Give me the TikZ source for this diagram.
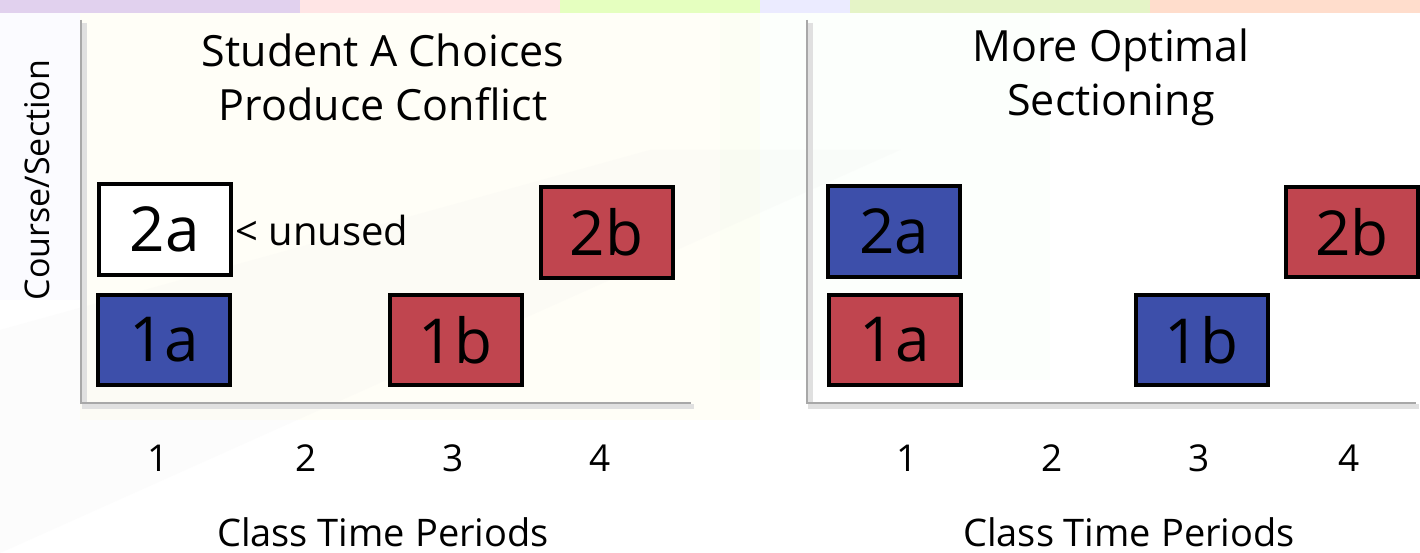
\documentclass[tikz,border=0pt]{standalone}
\usepackage{fontspec}
\setmainfont{Open Sans}
\definecolor{secblue}{HTML}{3D4FAA}
\definecolor{secred}{HTML}{C0454F}
\definecolor{axisgray}{HTML}{A8A8A8}
\begin{document}
\begin{tikzpicture}[x=1pt,y=-1pt,
  sec/.style={draw=black, line width=4pt, minimum width=132pt, minimum height=90pt,
    inner sep=0pt, font=\fontsize{62}{62}\selectfont},
  blu/.style={sec, fill=secblue},
  rd/.style={sec, fill=secred},
  wht/.style={sec, fill=white},
  ttl/.style={font=\fontsize{43}{54}\selectfont, align=center},
  num/.style={font=\fontsize{37}{37}\selectfont},
  lab/.style={font=\fontsize{38}{38}\selectfont},
  axis/.style={draw=axisgray, line width=2.5pt},
  shadow/.style={draw=black!12, line width=5pt}]
\useasboundingbox (0,0) rectangle (1420,553);
% background
\fill[white] (0,0) rectangle (1420,553);
\fill[blue!30!violet, opacity=0.18] (0,0) rectangle (300,13);
\fill[red!40, opacity=0.25] (300,0) rectangle (560,13);
\fill[green!40!yellow, opacity=0.25] (560,0) rectangle (760,13);
\fill[blue!30, opacity=0.25] (760,0) rectangle (850,13);
\fill[yellow!60!green, opacity=0.25] (850,0) rectangle (1150,13);
\fill[red!30!orange, opacity=0.2] (1150,0) rectangle (1420,13);
\fill[blue!20, opacity=0.08] (0,13) rectangle (80,300);
\fill[yellow!40, opacity=0.07] (80,13) rectangle (760,420);
\fill[green!20, opacity=0.05] (720,13) rectangle (1050,380);
\fill[gray!15, opacity=0.15] (0,330) -- (650,150) -- (900,150) -- (0,553) -- cycle;
% left panel axes
\coordinate (LT) at (81,20);
\coordinate (LO) at (81,403);
\coordinate (LR) at (691,403);
\draw[shadow] ([shift={(3,3)}]LT) -- ([shift={(3,3)}]LO) -- ([shift={(3,3)}]LR);
\draw[axis] (LT) -- (LO) -- (LR);
% right panel axes
\coordinate (RT) at (807,20);
\coordinate (RO) at (807,403);
\coordinate (RR) at (1416,403);
\draw[shadow] ([shift={(3,3)}]RT) -- ([shift={(3,3)}]RO) -- ([shift={(3,3)}]RR);
\draw[axis] (RT) -- (RO) -- (RR);
% titles
\node[ttl] (lt) at (383,77) {Student A Choices\\Produce Conflict};
\node[ttl] (rt) at (1111,77) {More Optimal\\Sectioning};
% left boxes
\node[wht] (L2a) at (164.5,229.5) {2a};
\node[rd]  (L2b) at (606.5,232.5) {2b};
\node[blu] (L1a) at (164,340) {1a};
\node[rd]  (L1b) at (455.5,340) {1b};
\node[lab, anchor=west, font=\fontsize{40}{40}\selectfont] (unused) at (232,230) {< unused};
% right boxes
\node[blu] (R2a) at (894,231.5) {2a};
\node[rd]  (R2b) at (1352,232) {2b};
\node[rd]  (R1a) at (894.5,340) {1a};
\node[blu] (R1b) at (1201.5,340) {1b};
% numbers
\node[num] (l1) at (158,458) {1};
\node[num] (l2) at (306,458) {2};
\node[num] (l3) at (453,458) {3};
\node[num] (l4) at (600,458) {4};
\node[num] (r1) at (907,458) {1};
\node[num] (r2) at (1052,458) {2};
\node[num] (r3) at (1199,458) {3};
\node[num] (r4) at (1349,458) {4};
% axis labels
\node[lab, anchor=base, inner sep=1pt] (lx) at (383,546) {Class Time Periods};
\node[lab, anchor=base, inner sep=1pt] (rx) at (1129,546) {Class Time Periods};
\node[lab, rotate=90, font=\fontsize{34}{34}\selectfont] (ly) at (37,180) {Course/Section};
\end{tikzpicture}
\end{document}
